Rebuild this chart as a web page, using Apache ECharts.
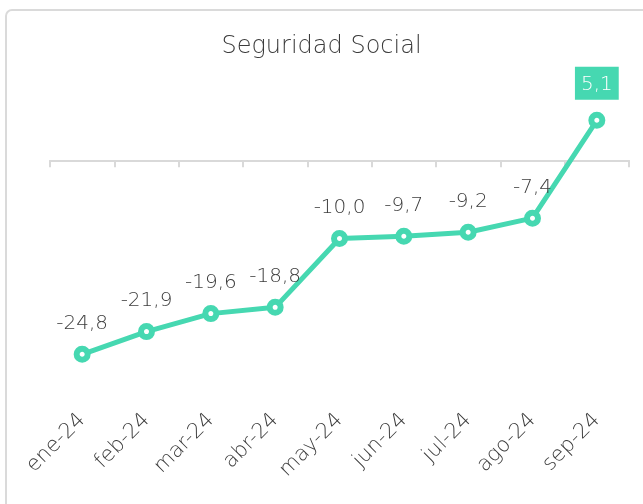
<!DOCTYPE html>
<html>
<head>
<meta charset="utf-8">
<script src="https://cdn.jsdelivr.net/npm/echarts@6/dist/echarts.min.js"></script>
<style>
html,body{margin:0;padding:0;background:#fff;}
#chart{width:643px;height:504px;}
</style>
</head>
<body>
<div id="chart"></div>
<script>
// datos
var meses = ['ene-24','feb-24','mar-24','abr-24','may-24','jun-24','jul-24','ago-24','sep-24'];
var valores = [-24.8, -21.9, -19.6, -18.8, -10.0, -9.7, -9.2, -7.4, 5.1];

var verde = '#46d8b1';
var gris = '#3c3c3c';
var fuente = 'DejaVu Sans';

var myChart = echarts.init(document.getElementById('chart'));

function etiqueta(p) {
    return p.value.toFixed(1).replace('.', ',');
}

var puntos = valores.map(function (v, i) {
    if (i === valores.length - 1) {
        return {
            value: v,
            label: {
                color: '#fff',
                backgroundColor: verde,
                padding: [8, 6, 5, 6],
                distance: 12
            }
        };
    }
    return v;
});

var option = {
    animation: false,
    title: {
        text: 'Seguridad Social',
        left: 'center',
        top: 30,
        textStyle: {color: gris, fontSize: 24, fontWeight: 200, fontFamily: fuente}
    },
    graphic: [{
        type: 'rect',
        shape: {x: 6, y: 10, width: 700, height: 600, r: 6},
        style: {fill: 'none', stroke: '#dadada', lineWidth: 2},
        silent: true
    }],
    grid: {left: 50, right: 14, top: 82, bottom: 109},
    xAxis: [{
        type: 'category',
        data: meses,
        boundaryGap: true,
        axisLine: {onZero: true, lineStyle: {color: '#d9d9d9', width: 2}},
        axisTick: {show: true, length: 7, lineStyle: {color: '#d9d9d9', width: 2}},
        axisLabel: {show: false}
    }, {
        type: 'category',
        data: meses,
        position: 'bottom',
        boundaryGap: true,
        axisLine: {show: false},
        axisTick: {show: false},
        axisLabel: {
            rotate: 45,
            margin: 22,
            color: gris,
            fontSize: 21,
            fontWeight: 200,
            fontFamily: fuente
        }
    }],
    yAxis: {
        type: 'value',
        min: -30,
        max: 10,
        show: false,
        splitLine: {show: false}
    },
    series: [{
        type: 'line',
        data: puntos,
        xAxisIndex: 0,
        symbol: 'circle',
        symbolSize: 11,
        lineStyle: {color: verde, width: 5},
        itemStyle: {color: '#fff', borderColor: verde, borderWidth: 6},
        label: {
            show: true,
            position: 'top',
            distance: 12,
            formatter: etiqueta,
            color: gris,
            fontSize: 20,
            fontWeight: 200,
            fontFamily: fuente
        }
    }]
};
myChart.setOption(option);
</script>
</body>
</html>
